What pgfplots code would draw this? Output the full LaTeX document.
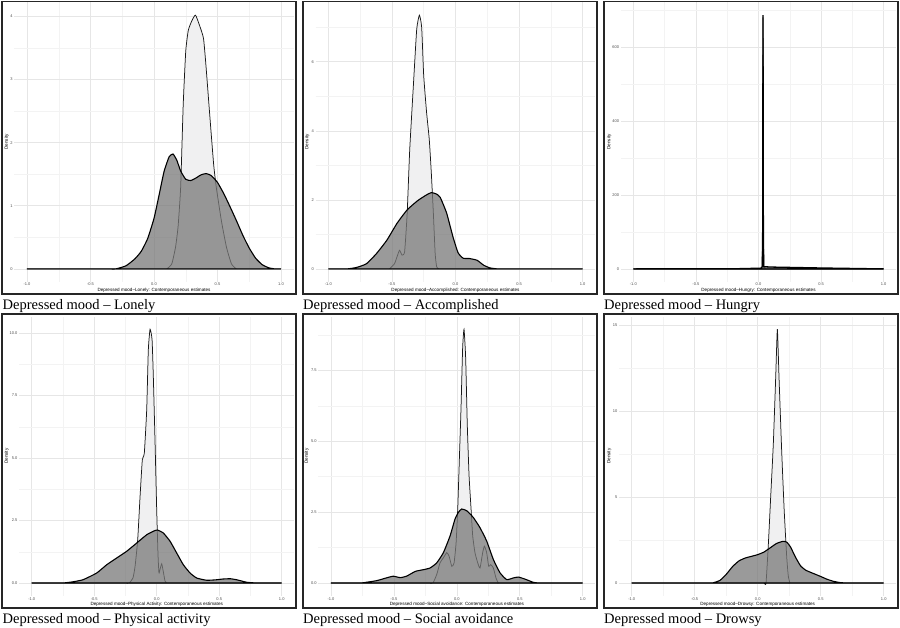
\documentclass[border=0pt]{standalone}
\usepackage{pgfplots}
\pgfplotsset{compat=1.18}
\usepackage{fontspec}
\setmainfont{Liberation Serif}
\newfontfamily\sansf{Liberation Sans}
\definecolor{darkfill}{RGB}{120,120,120}
\definecolor{lightfill}{RGB}{240,240,241}
\definecolor{gridmaj}{RGB}{230,230,230}
\definecolor{gridmin}{RGB}{243,243,243}
\definecolor{tickcol}{RGB}{77,77,77}
\newcommand\tickfont{\sansf\fontsize{4}{4}\selectfont}
\newcommand\labfont{\sansf\fontsize{4.6}{4.6}\selectfont}
\pgfplotsset{
  panel/.style={
    scale only axis, anchor=south west, height=279.1pt,
    xmin=-1.1, xmax=1.1,
    axis line style={draw=none}, major tick length=0pt, minor tick length=0pt,
    tick style={draw=none},
    xtick={-1,-0.5,0,0.5,1}, xticklabels={-1.0,-0.5,0.0,0.5,1.0},
    minor xtick={-0.75,-0.25,0.25,0.75},
    grid=both,
    major grid style={color=gridmaj, line width=0.6pt},
    minor grid style={color=gridmin, line width=0.45pt},
    tick label style={font=\tickfont, text=tickcol},
    xticklabel style={inner sep=1.4pt},
    yticklabel style={inner sep=1.6pt},
    xlabel style={at={(axis description cs:0.5,0)}, anchor=north, yshift=-6.6pt, inner sep=0pt, font=\labfont},
    ylabel={Density},
    clip=true,
  },
  darkc/.style={draw=black, line width=1.1pt, fill=darkfill, fill opacity=0.75, smooth, tension=0.3},
  lightc/.style={draw=black!90, line width=0.75pt, fill=lightfill, smooth, tension=0.3},
}
\newcommand\pcap[3]{\node[anchor=base west, inner sep=0pt, font=\fontsize{14.5}{14.5}\selectfont] at (#1pt,#2pt) {#3};}
\begin{document}
\begin{tikzpicture}
\useasboundingbox (0pt,0pt) rectangle (900pt,628pt);
% frames
\draw[line width=1.7pt, black!85] (2.2pt,626.6pt) rectangle (296pt,333.7pt);
\draw[line width=1.7pt, black!85] (303.3pt,626.6pt) rectangle (596.8pt,333.7pt);
\draw[line width=1.7pt, black!85] (604.3pt,626.6pt) rectangle (897.8pt,333.7pt);
\draw[line width=1.7pt, black!85] (2.2pt,313.7pt) rectangle (296pt,19.7pt);
\draw[line width=1.7pt, black!85] (303.3pt,313.7pt) rectangle (596.8pt,19.7pt);
\draw[line width=1.7pt, black!85] (604.3pt,313.7pt) rectangle (897.8pt,19.7pt);

% Panel 1: Lonely
\begin{axis}[panel, at={(14.3pt,346.4pt)}, width=279.4pt,
  ymin=-0.201, ymax=4.221, ytick={0,1,2,3,4}, yticklabels={0,1,2,3,4},
  minor ytick={0.5,1.5,2.5,3.5},
  xlabel={Depressed mood–Lonely: Contemporaneous estimates},
  ylabel style={at={([xshift=-7.6pt]axis description cs:0,0.5)}, anchor=center, inner sep=0pt, font=\labfont}]
\addplot[lightc] coordinates {(-1,0) (0.02,0) (0.06,0) (0.10,0) (0.14,0.08) (0.17,0.35) (0.19,0.68) (0.21,1.3) (0.23,2.6) (0.25,3.45) (0.27,3.78) (0.30,3.94) (0.327,4.02) (0.36,3.85) (0.39,3.65) (0.41,3.2) (0.44,2.41) (0.47,1.65) (0.49,1.30) (0.53,0.77) (0.57,0.35) (0.61,0.08) (0.65,0) (0.70,0) (1,0)} \closedcycle;
\addplot[darkc] coordinates {(-1,0) (-0.40,0) (-0.34,0) (-0.30,0) (-0.22,0.05) (-0.15,0.16) (-0.10,0.28) (-0.05,0.48) (0.0,0.8) (0.04,1.17) (0.08,1.55) (0.12,1.78) (0.15,1.82) (0.18,1.72) (0.21,1.55) (0.25,1.42) (0.29,1.40) (0.33,1.44) (0.37,1.49) (0.41,1.51) (0.45,1.48) (0.50,1.37) (0.55,1.19) (0.60,0.98) (0.65,0.76) (0.70,0.53) (0.75,0.33) (0.80,0.17) (0.85,0.07) (0.90,0.02) (0.95,0) (1,0)} \closedcycle;
\end{axis}

% Panel 2: Accomplished
\begin{axis}[panel, at={(315.6pt,346.4pt)}, width=279.8pt,
  ymin=-0.3675, ymax=7.7175, ytick={0,2,4,6}, yticklabels={0,2,4,6},
  minor ytick={1,3,5,7},
  xlabel={Depressed mood–Accomplished: Contemporaneous estimates},
  ylabel style={at={([xshift=-8.3pt]axis description cs:0,0.5)}, anchor=center, inner sep=0pt, font=\labfont}]
\addplot[lightc] coordinates {(-1,0) (-0.60,0) (-0.55,0) (-0.52,0) (-0.48,0.15) (-0.46,0.35) (-0.44,0.54) (-0.42,0.40) (-0.40,0.50) (-0.38,1.61) (-0.36,3.45) (-0.33,5.39) (-0.305,6.94) (-0.284,7.35) (-0.266,7.0) (-0.25,5.6) (-0.227,4.52) (-0.206,3.74) (-0.19,2.77) (-0.174,1.61) (-0.16,0.45) (-0.148,0.06) (-0.13,0) (-0.10,0) (1,0)} \closedcycle;
\addplot[darkc] coordinates {(-1,0) (-0.92,0) (-0.88,0) (-0.85,0) (-0.78,0.04) (-0.70,0.15) (-0.62,0.45) (-0.54,0.83) (-0.46,1.32) (-0.38,1.71) (-0.30,1.97) (-0.23,2.14) (-0.19,2.21) (-0.15,2.17) (-0.12,2.07) (-0.07,1.62) (-0.02,0.93) (0.02,0.47) (0.06,0.31) (0.11,0.30) (0.17,0.25) (0.22,0.11) (0.27,0.03) (0.33,0) (0.38,0) (1,0)} \closedcycle;
\end{axis}

% Panel 3: Hungry
\begin{axis}[panel, at={(620.8pt,346.4pt)}, width=275.4pt,
  ymin=-34.3, ymax=720.3, ytick={0,200,400,600}, yticklabels={0,200,400,600},
  minor ytick={100,300,500,700},
  xlabel={Depressed mood–Hungry: Contemporaneous estimates},
  ylabel style={at={([xshift=-11.5pt]axis description cs:0,0.5)}, anchor=center, inner sep=0pt, font=\labfont}]
\addplot[draw=black, line width=0.9pt, fill=lightfill] coordinates {(-1,0) (0.02,0) (0.030,5) (0.033,90) (0.036,680) (0.039,90) (0.042,5) (0.06,0) (1,0)} \closedcycle;
\addplot[draw=black, line width=1.3pt, fill=darkfill, fill opacity=0.75] coordinates {(-1,0) (-0.2,0.3) (0.02,2) (0.030,6) (0.033,80) (0.036,686) (0.039,80) (0.042,6) (0.1,5) (0.5,2.5) (1,0)} \closedcycle;
\end{axis}

% Panel 4: Physical activity
\begin{axis}[panel, at={(19.2pt,32.3pt)}, width=275.0pt,
  ymin=-0.5075, ymax=10.6575, ytick={0,2.5,5,7.5,10}, yticklabels={0.0,2.5,5.0,7.5,10.0},
  minor ytick={1.25,3.75,6.25,8.75},
  xlabel={Depressed mood–Physical Activity: Contemporaneous estimates},
  ylabel style={at={([xshift=-12.5pt]axis description cs:0,0.5)}, anchor=center, inner sep=0pt, font=\labfont}]
\addplot[lightc] coordinates {(-1,0) (-0.30,0) (-0.25,0) (-0.22,0) (-0.19,0.2) (-0.173,0.67) (-0.152,1.73) (-0.133,3.47) (-0.115,4.93) (-0.099,5.2) (-0.08,6.93) (-0.067,9.33) (-0.053,10.15) (-0.037,9.73) (-0.027,8.27) (-0.013,5.6) (0.0,2.93) (0.01,1.2) (0.018,0.4) (0.027,0.55) (0.04,0.77) (0.053,0.45) (0.067,0.07) (0.08,0) (0.11,0) (1,0)} \closedcycle;
\addplot[darkc] coordinates {(-1,0) (-0.85,0) (-0.80,0) (-0.75,0) (-0.68,0.04) (-0.59,0.13) (-0.48,0.40) (-0.40,0.73) (-0.32,1.0) (-0.24,1.27) (-0.16,1.6) (-0.08,1.93) (-0.027,2.07) (0.005,2.12) (0.053,2.0) (0.107,1.67) (0.16,1.2) (0.213,0.73) (0.267,0.40) (0.32,0.20) (0.40,0.11) (0.48,0.13) (0.53,0.16) (0.59,0.17) (0.64,0.13) (0.72,0.03) (0.80,0) (0.85,0) (1,0)} \closedcycle;
\end{axis}

% Panel 5: Social avoidance
\begin{axis}[panel, at={(318.4pt,32.3pt)}, width=276.9pt,
  ymin=-0.4475, ymax=9.3975, ytick={0,2.5,5,7.5}, yticklabels={0.0,2.5,5.0,7.5},
  minor ytick={1.25,3.75,6.25,8.75},
  xlabel={Depressed mood–Social avoidance: Contemporaneous estimates},
  ylabel style={at={([xshift=-11.7pt]axis description cs:0,0.5)}, anchor=center, inner sep=0pt, font=\labfont}]
\addplot[lightc] coordinates {(-1,0) (-0.30,0) (-0.22,0) (-0.19,0) (-0.16,0.3) (-0.134,0.71) (-0.107,0.89) (-0.08,1.07) (-0.062,0.95) (-0.04,0.59) (-0.022,0.71) (-0.006,1.42) (0.007,2.61) (0.02,4.38) (0.033,6.16) (0.046,8.29) (0.057,8.95) (0.07,7.94) (0.083,5.57) (0.097,3.79) (0.113,2.61) (0.126,1.66) (0.144,1.07) (0.166,0.71) (0.184,0.53) (0.205,1.07) (0.219,1.30) (0.237,1.07) (0.253,0.59) (0.269,0.65) (0.29,0.53) (0.311,0.18) (0.33,0) (0.36,0) (1,0)} \closedcycle;
\addplot[darkc] coordinates {(-1,0) (-0.85,0) (-0.80,0) (-0.76,0) (-0.64,0.08) (-0.56,0.18) (-0.505,0.24) (-0.45,0.19) (-0.40,0.24) (-0.33,0.41) (-0.266,0.47) (-0.213,0.53) (-0.16,0.71) (-0.107,1.07) (-0.054,1.66) (-0.015,2.25) (0.012,2.49) (0.038,2.61) (0.078,2.55) (0.131,2.31) (0.184,1.95) (0.237,1.48) (0.29,0.83) (0.343,0.36) (0.396,0.12) (0.449,0.18) (0.489,0.21) (0.54,0.14) (0.61,0.02) (0.66,0) (0.72,0) (1,0)} \closedcycle;
\end{axis}

% Panel 6: Drowsy
\begin{axis}[panel, at={(619.1pt,32.3pt)}, width=277.2pt,
  ymin=-0.7375, ymax=15.4875, ytick={0,5,10,15}, yticklabels={0,5,10,15},
  minor ytick={2.5,7.5,12.5},
  xlabel={Depressed mood–Drowsy: Contemporaneous estimates},
  ylabel style={at={([xshift=-9.8pt]axis description cs:0,0.5)}, anchor=center, inner sep=0pt, font=\labfont}]
\addplot[lightc] coordinates {(-1,0) (0.0,0) (0.05,0) (0.066,0) (0.085,2.32) (0.103,5.0) (0.124,8.1) (0.143,12.0) (0.156,14.75) (0.169,12.0) (0.19,7.74) (0.21,4.26) (0.23,1.55) (0.243,0.39) (0.257,0) (0.28,0) (1,0)} \closedcycle;
\addplot[darkc] coordinates {(-1,0) (-0.45,0) (-0.40,0) (-0.36,0) (-0.3,0.15) (-0.25,0.5) (-0.2,0.95) (-0.15,1.28) (-0.1,1.45) (-0.05,1.55) (0,1.65) (0.05,1.8) (0.1,2.05) (0.15,2.3) (0.2,2.42) (0.23,2.38) (0.26,2.1) (0.3,1.5) (0.34,1.0) (0.38,0.75) (0.42,0.62) (0.46,0.5) (0.5,0.38) (0.55,0.22) (0.6,0.1) (0.65,0.03) (0.7,0) (0.75,0) (1,0)} \closedcycle;
\end{axis}

% captions
\pcap{2.5}{318}{Depressed mood – Lonely}
\pcap{303}{318}{Depressed mood – Accomplished}
\pcap{604}{318}{Depressed mood – Hungry}
\pcap{2.5}{4}{Depressed mood – Physical activity}
\pcap{303}{4}{Depressed mood – Social avoidance}
\pcap{604}{4}{Depressed mood – Drowsy}
\end{tikzpicture}
\end{document}
